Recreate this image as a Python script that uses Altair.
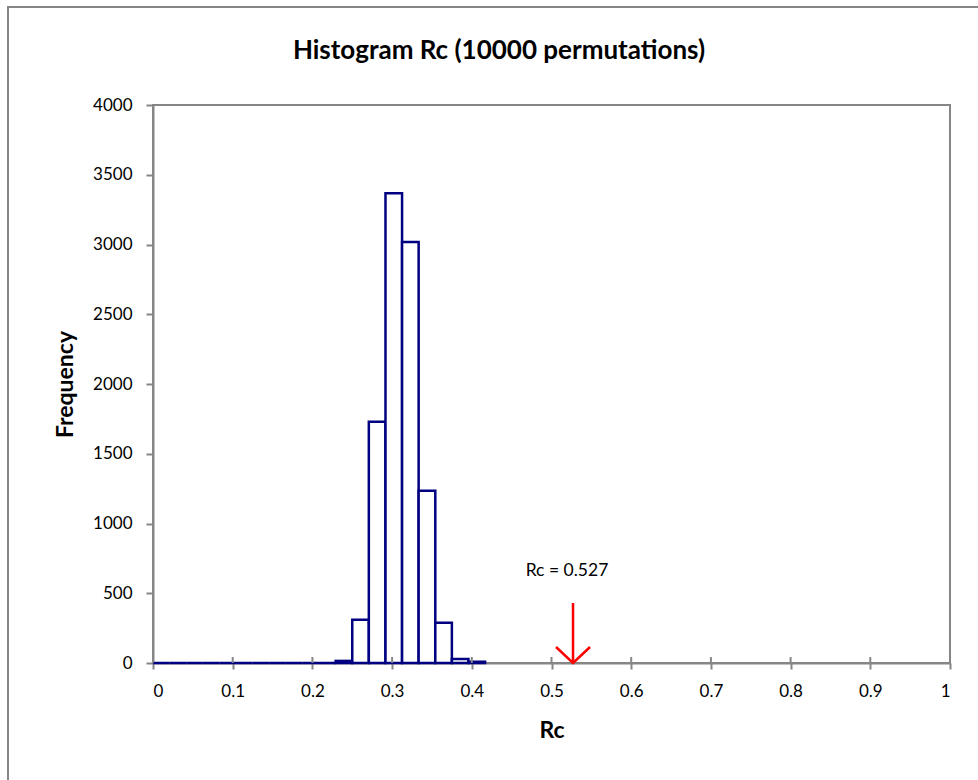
import altair as alt
import pandas as pd

# ---- data ----
bin_lo = [0.0000, 0.0208, 0.0417, 0.0625, 0.0833, 0.1042, 0.1250, 0.1458, 0.1667, 0.1875,
          0.2083, 0.2292, 0.2500, 0.2708, 0.2917, 0.3125, 0.3333, 0.3542, 0.3750, 0.3958]
bin_hi = [0.0208, 0.0417, 0.0625, 0.0833, 0.1042, 0.1250, 0.1458, 0.1667, 0.1875, 0.2083,
          0.2292, 0.2500, 0.2708, 0.2917, 0.3125, 0.3333, 0.3542, 0.3750, 0.3958, 0.4167]
counts = [0, 0, 0, 0, 0, 0, 0, 0, 0, 0,
          0, 15, 310, 1730, 3367, 3018, 1235, 288, 28, 9]

x_ticks = [0, 0.1, 0.2, 0.3, 0.4, 0.5, 0.6, 0.7, 0.8, 0.9, 1]
y_ticks = [0, 500, 1000, 1500, 2000, 2500, 3000, 3500, 4000]

rc_value = 0.527
rc_label = "Rc = 0.527"
arrow_top = 430

title_text = ["Histogram Rc (10000 permutations)"]
x_title = "Rc"
y_title = "Frequency"

W, H = 797, 558
FONT = "Lato"
GRAY = "#868686"
NAVY = "#000080"

bars_df = pd.DataFrame({"lo": bin_lo, "hi": bin_hi, "count": counts})
ticks_df = pd.DataFrame({"t": x_ticks})
arrow_df = pd.DataFrame({"x": [rc_value], "top": [arrow_top], "bot": [0], "label": [rc_label]})
title_df = pd.DataFrame({"title": title_text})

xscale = alt.Scale(domain=[0, 1], nice=False, zero=False)
yscale = alt.Scale(domain=[0, 4000], nice=False)

x_axis = alt.Axis(values=x_ticks, format="~g", title=x_title, grid=False,
                  tickSize=6, labelPadding=14, titleX=W / 2, titleY=67,
                  titleBaseline="middle", titleAlign="center")
y_axis = alt.Axis(values=y_ticks, format="d", title=y_title, grid=False,
                  tickSize=7, labelPadding=14, titleAngle=270, titleX=-88,
                  titleY=H / 2, titleBaseline="middle", titleAlign="center")

border = alt.Chart(arrow_df).mark_rect(fill=None, stroke=GRAY, strokeWidth=2).encode(
    x=alt.value(-145), y=alt.value(-98), x2=alt.value(W + 200), y2=alt.value(H + 200)
)

title = alt.Chart(title_df).mark_text(
    font=FONT, fontSize=26, fontWeight="bold", color="black",
    align="center", baseline="middle",
).encode(
    x=alt.value(346), y=alt.value(-54), text="title:N"
)

bars = alt.Chart(bars_df).mark_rect(fill="white", stroke=NAVY, strokeWidth=2.5).encode(
    x=alt.X("lo:Q", scale=xscale, axis=x_axis),
    x2="hi:Q",
    y=alt.Y("count:Q", scale=yscale, axis=y_axis),
    y2=alt.datum(0),
)

inner_ticks = alt.Chart(ticks_df).mark_rule(color=GRAY, strokeWidth=2).encode(
    x=alt.X("t:Q", scale=xscale),
    y=alt.value(H - 6), y2=alt.value(H),
)

arrow_shaft = alt.Chart(arrow_df).mark_rule(color="red", strokeWidth=2.5).encode(
    x=alt.X("x:Q", scale=xscale),
    y=alt.Y("top:Q", scale=yscale),
    y2="bot:Q",
)

arrow_head = alt.Chart(arrow_df).mark_point(
    shape="M-1,-0.94L0,0L1,-0.94", filled=False, color="red", strokeWidth=2.5,
    size=1156, opacity=1,
).encode(
    x=alt.X("x:Q", scale=xscale),
    y=alt.Y("bot:Q", scale=yscale),
)

label = alt.Chart(arrow_df).mark_text(
    font=FONT, fontSize=17.5, color="black", baseline="middle", align="center", dx=-6, dy=-32,
).encode(
    x=alt.X("x:Q", scale=xscale),
    y=alt.Y("top:Q", scale=yscale),
    text="label:N",
)

chart = alt.layer(border, title, bars, inner_ticks, arrow_shaft, arrow_head, label).properties(
    width=W, height=H,
    background="white",
    autosize=alt.AutoSizeParams(type="none"),
    padding={"left": 153, "top": 105, "right": 28, "bottom": 117},
).configure_view(
    stroke=GRAY, strokeWidth=2
).configure_axis(
    domainColor=GRAY, domainWidth=2, tickColor=GRAY, tickWidth=2,
    labelFont=FONT, labelFontSize=17, labelColor="black",
    titleFont=FONT, titleFontSize=23, titleFontWeight="bold", titleColor="black",
)

chart.save("out.html", embed_options={"renderer": "svg", "actions": False})
